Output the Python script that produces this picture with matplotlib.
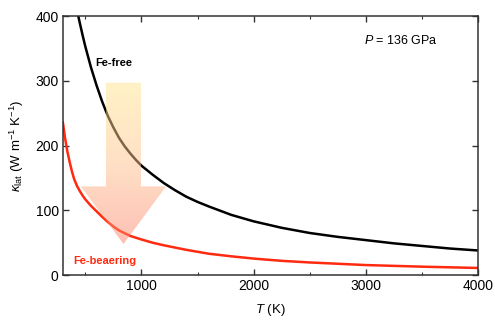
import numpy as np
import matplotlib
matplotlib.use("Agg")
import matplotlib.pyplot as plt
from matplotlib.patches import Polygon
from matplotlib.colors import LinearSegmentedColormap
from matplotlib.ticker import MultipleLocator

plt.rcParams['font.family'] = ['Liberation Sans', 'DejaVu Sans']
plt.rcParams['mathtext.fontset'] = 'custom'
plt.rcParams['mathtext.rm'] = 'Liberation Sans'
plt.rcParams['mathtext.it'] = 'Liberation Sans:italic'

# Fe-free curve (T in K, kappa in W m^-1 K^-1)
T_free = [425, 450, 475, 500, 550, 600, 650, 700, 750, 800, 850, 900, 950, 1000,
          1100, 1200, 1300, 1400, 1500, 1600, 1800, 2000, 2250, 2500, 2750,
          3000, 3250, 3500, 3750, 4000]
k_free = [410, 390, 371, 353, 321, 293, 268, 246, 228, 212, 199, 188, 178, 169,
          155, 142, 131, 121, 113, 106, 93, 83, 73, 65, 59,
          54, 49, 45, 41, 38]

# Fe-bearing curve
T_fe = [300, 320, 340, 360, 380, 400, 425, 450, 475, 500, 550, 600, 650, 700, 750,
        800, 900, 1000, 1100, 1200, 1400, 1600, 1800, 2000, 2250, 2500, 2750,
        3000, 3500, 4000]
k_fe = [236, 211, 191, 175, 160.5, 148.5, 138, 130, 123, 117, 107, 98.5, 90, 82, 75,
        69, 60.5, 55, 50, 46, 39, 33, 29, 25.5, 22, 19.5, 17.5,
        15.5, 13, 11]

# Arrow (data coordinates)
arrow_x = [684, 996, 996, 1220, 840, 460, 684]
arrow_y = [297, 297, 137, 137, 48, 137, 137]

fig = plt.figure(figsize=(4.95, 3.21), dpi=100)
ax = fig.add_axes([0.127, 0.143, 0.839, 0.807])

ax.plot(T_free, k_free, color='black', lw=1.8, zorder=2)
ax.plot(T_fe, k_fe, color='#ff2a10', lw=1.8, zorder=2)

# gradient arrow
poly = Polygon(list(zip(arrow_x, arrow_y)), closed=True, facecolor='none',
               edgecolor='none', transform=ax.transData)
ax.add_patch(poly)
cmap = LinearSegmentedColormap.from_list('arr', [(0.99, 0.50, 0.42), (1.0, 0.76, 0.55), (1.0, 0.90, 0.55)])
grad = np.linspace(0, 1, 256).reshape(-1, 1)
im = ax.imshow(grad, cmap=cmap, origin='lower', aspect='auto',
               extent=[min(arrow_x), max(arrow_x), min(arrow_y), max(arrow_y)],
               alpha=0.5, zorder=3)
im.set_clip_path(poly)

ax.set_xlim(300, 4000)
ax.set_ylim(0, 400)
ax.xaxis.set_major_locator(MultipleLocator(1000))
ax.xaxis.set_minor_locator(MultipleLocator(500))
ax.yaxis.set_major_locator(MultipleLocator(100))
ax.tick_params(which='both', direction='in', top=True, right=True,
               labelsize=10, color='#333333', pad=3)
ax.tick_params(which='major', length=4, width=1)
ax.tick_params(which='minor', length=2.5, width=0.8)
for s in ax.spines.values():
    s.set_color('#333333')
    s.set_linewidth(1.1)

ax.set_xlabel(r'$T$ (K)', fontsize=9.5, labelpad=6)
ax.set_ylabel(r'$\kappa_{\mathrm{lat}}$ (W m$^{-1}$ K$^{-1}$)', fontsize=9.5, labelpad=7)

ax.text(590, 328, 'Fe-free', fontsize=8, fontweight='bold', color='black',
        ha='left', va='center', zorder=4)
ax.text(390, 22, 'Fe-beaering', fontsize=8, fontweight='bold', color='#ff2a10',
        ha='left', va='center', zorder=4)
ax.text(2980, 363, r'$P$ = 136 GPa', fontsize=9, color='black',
        ha='left', va='center', zorder=4)

fig.savefig('out.png', dpi=100)
